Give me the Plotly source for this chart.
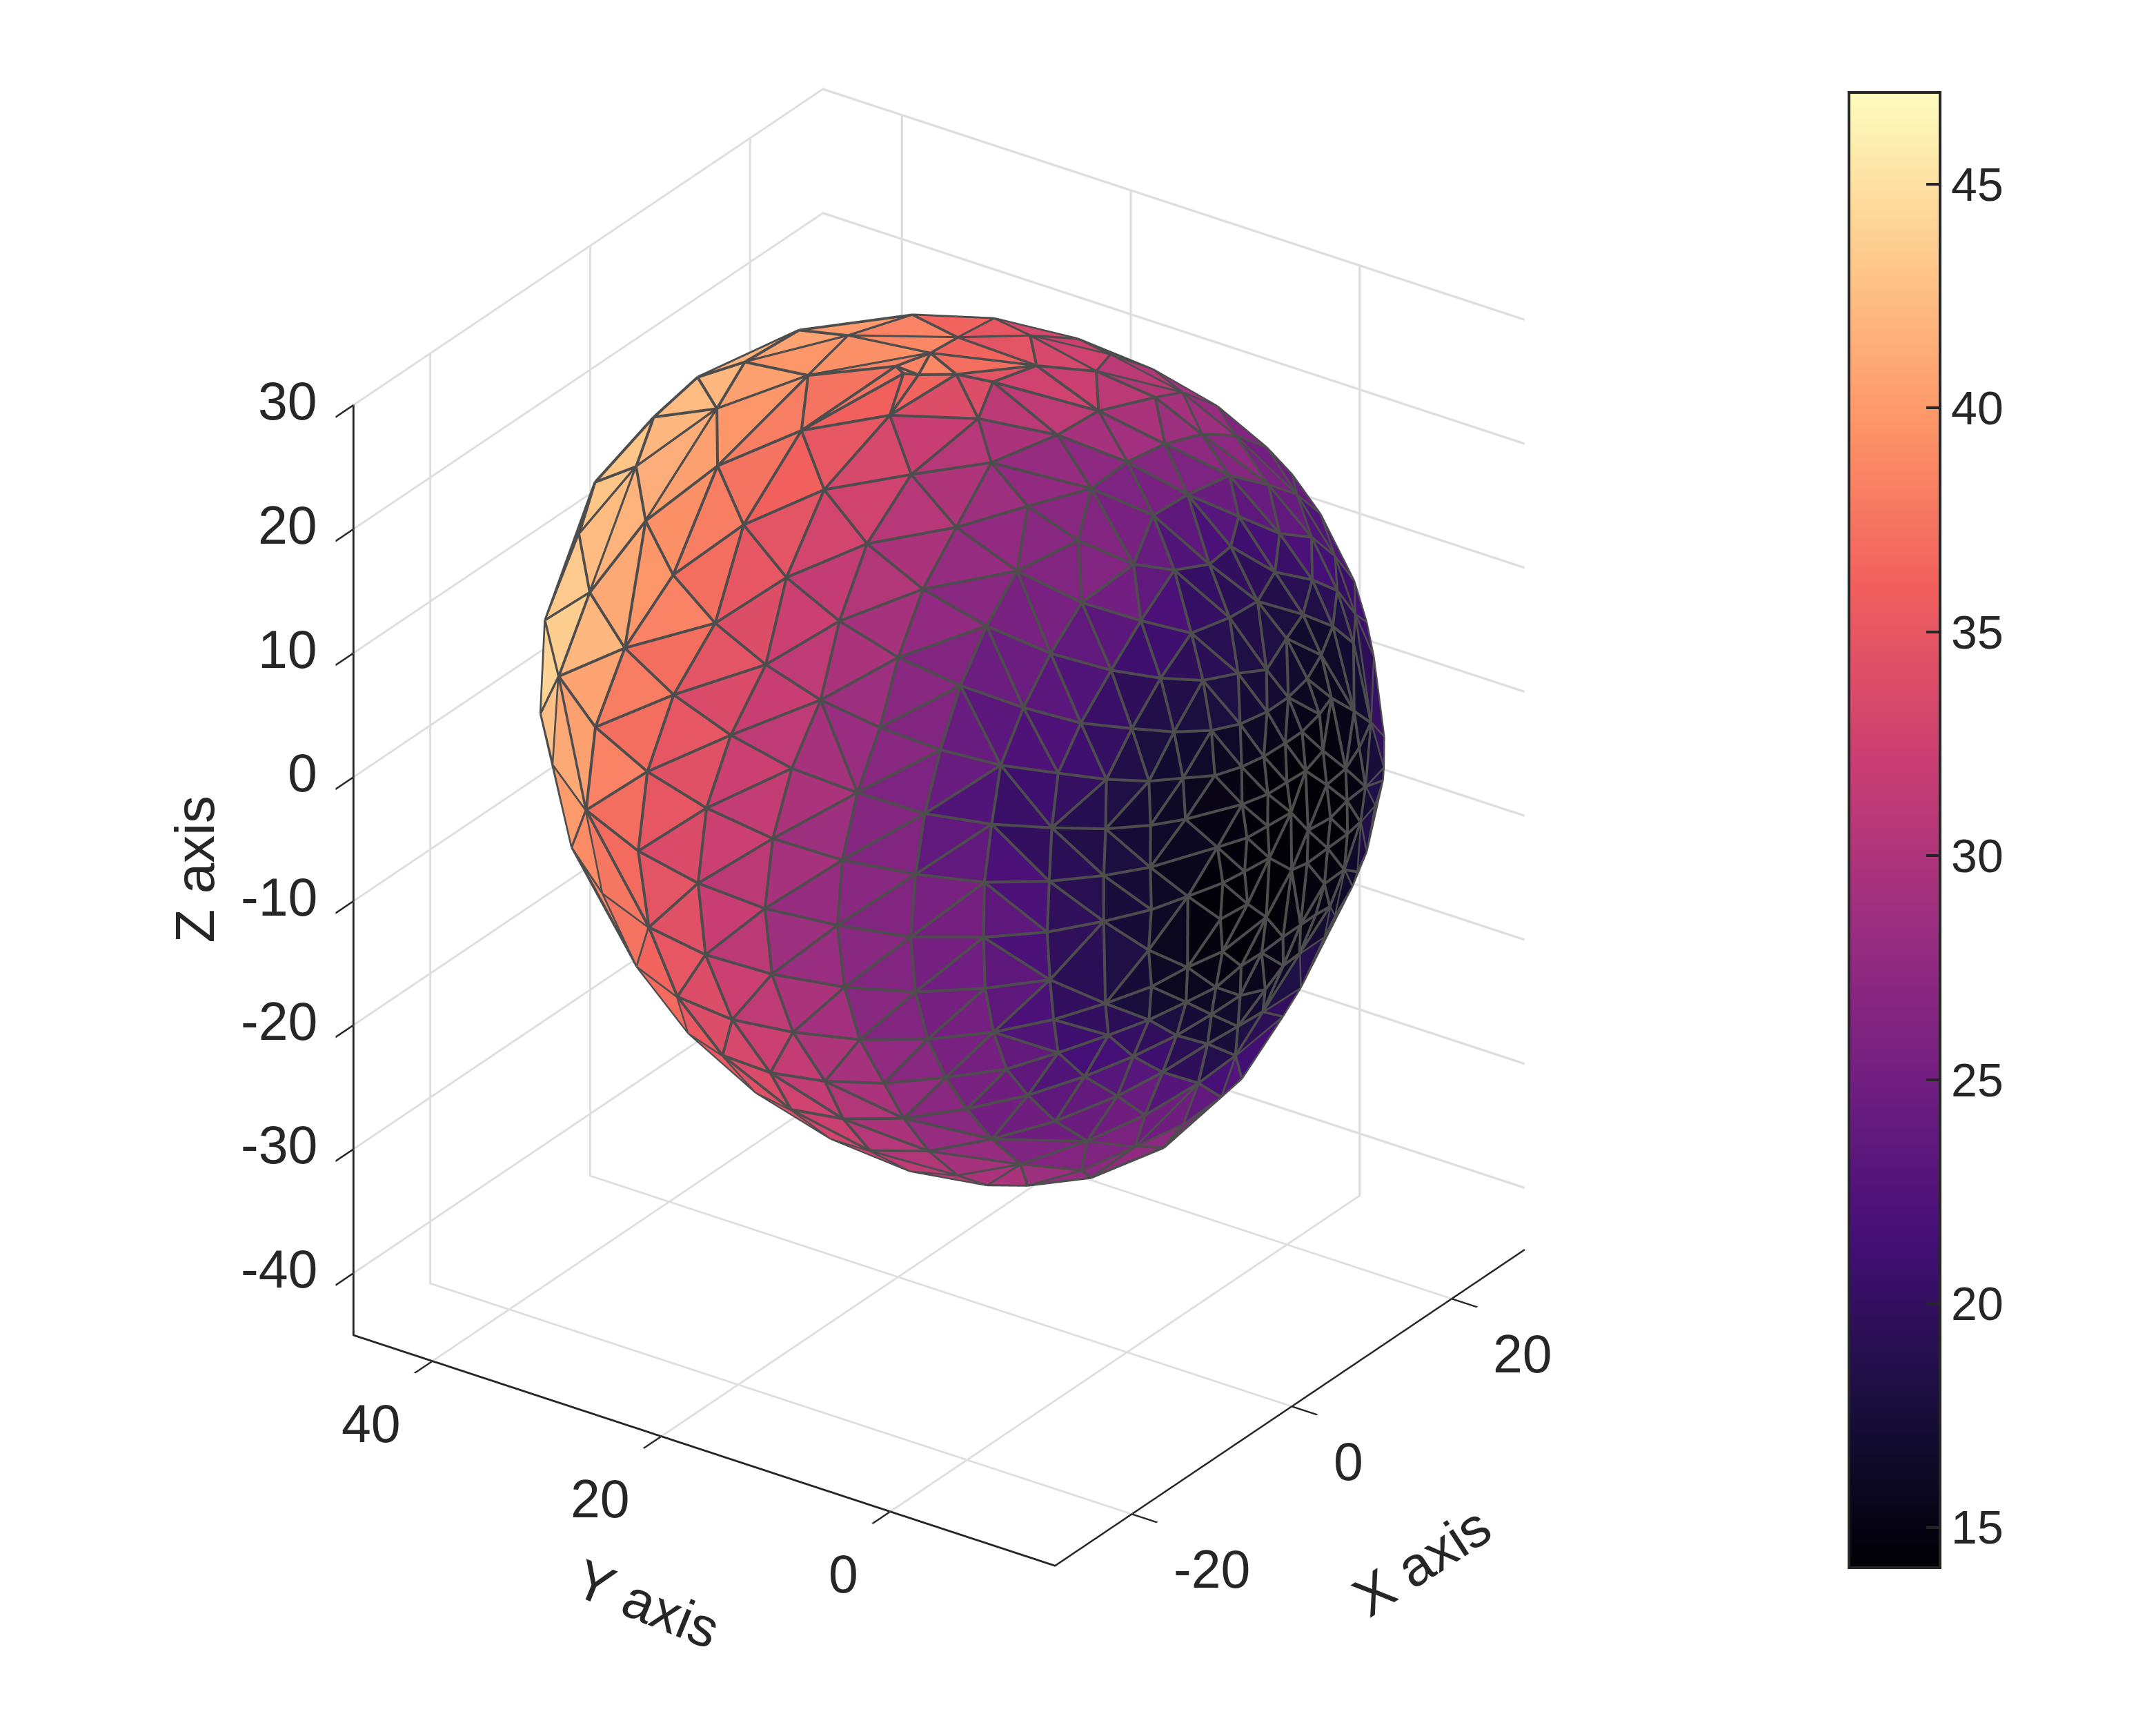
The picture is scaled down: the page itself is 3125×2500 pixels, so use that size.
import plotly.graph_objects as go

# surface nodes
node_x = [13.1,16.3,8.1,2.7,-0.2,-4.4,-6.4,-10.2,-12.9,-13.8,-15.3,19.2,20.1,21.4,23.0,23.9,24.2,24.3,23.8,23.2,22.5,20.8,19.9,19.5,18.5,16.9,16.0,15.4,13.9,12.9,10.5,9.0,5.6,4.3,2.0,0.6,-15.3,-15.9,-15.6,-14.5,-12.7,-10.4,-7.6,-6.0,-3.2,8.5,9.2,14.1,3.6,0.5,2.3,3.0,
          8.3,-0.9,-6.5,-3.6,-0.7,3.7,1.9,-3.7,-9.4,-11.1,-7.8,-3.8,-12.1,-14.3,-13.6,-9.6,-5.1,-14.5,-17.1,-17.1,-14.2,-9.3,-20.0,-20.0,-18.2,-13.4,-11.4,-16.8,-21.4,-18.0,-16.8,-22.1,-22.9,-21.7,-21.0,-14.8,-24.2,-19.6,-17.5,-14.9,-24.9,-24.3,-23.4,-23.4,-26.1,-21.7,-19.2,-16.4,-26.1,5.2,1.4,1.7,
          11.9,6.9,13.7,18.5,13.8,18.7,8.9,4.2,-0.3,12.1,16.4,20.8,6.3,2.0,9.4,12.8,17.2,6.4,-4.4,20.1,3.3,-2.6,0.2,9.2,13.3,16.4,-7.5,5.6,-4.7,-1.4,2.1,9.7,13.0,18.2,6.5,15.3,9.7,-2.8,0.3,3.0,6.8,9.1,11.8,14.3,4.0,1.5,-1.3,-3.9,4.3,6.9,6.2,11.3,
          2.2,-0.2,-2.4,-4.9,-7.3,8.6,11.5,3.6,1.4,-0.7,-3.2,5.8,8.2,1.2,2.9,5.7,-1.3,8.1,10.3,-8.0,-6.0,-1.5,2.5,5.2,7.7,0.7,-3.9,-3.3,-8.7,-3.8,-5.9,-6.2,-11.4,-1.9,-11.6,-5.8,0.2,2.1,4.0,4.8,5.9,-3.9,-1.9,0.8,2.7,-11.1,-8.6,-0.6,-3.3,-5.9,-8.2,-5.6,
          -10.7,-4.8,-2.3,0.1,-8.1,-10.8,-7.7,-3.1,-0.6,-10.2,-6.2,-2.0,-8.7,-5.8,-12.2,-9.4,-6.7,-12.3,-9.7,-13.4,-10.5,-20.4,-17.3,-14.2,-11.1,-20.8,-17.7,-14.5,-17.5,-14.0,-20.6,-19.7,-16.9,-13.2,-15.9,-18.2,-13.6,-25.9,-25.0,-27.0,-23.0,-26.0,-26.8,-25.6,-23.6,-26.8,-26.5,-25.3,-23.3,-25.3,-25.6,-25.3,
          -24.1,-22.2,-23.8,-23.7,-23.3,-22.2,-20.5,-16.1,-21.4,-20.9,-19.9,-18.3,-13.1,-15.3,-17.4,-16.6,-10.6,-8.7,-11.3,-4.8]
node_y = [27.9,23.0,34.3,39.4,41.2,43.4,43.4,43.7,42.2,40.5,37.8,17.7,15.5,12.7,8.2,4.5,2.5,0.1,-3.2,-4.7,-5.8,-7.9,-8.5,-8.7,-8.7,-9.1,-8.9,-8.9,-8.4,-8.2,-7.8,-7.3,-6.1,-5.2,-3.5,-2.8,35.1,31.7,27.4,22.3,17.0,11.7,6.9,4.5,0.9,30.3,21.2,18.3,35.9,28.2,21.8,17.0,
          13.7,35.2,23.9,18.2,12.5,14.3,7.4,40.3,29.2,18.7,13.4,9.2,33.6,23.5,13.2,8.2,5.1,36.8,27.7,17.8,7.9,3.1,29.9,22.0,12.4,2.9,-1.3,37.9,16.6,7.4,2.8,31.0,23.6,11.6,6.9,-1.3,17.7,2.6,-1.2,-4.4,24.5,12.3,7.2,30.9,18.5,2.5,-1.6,-4.9,12.7,20.8,20.5,19.4,
          11.0,7.3,7.1,8.1,3.1,3.6,2.9,2.9,2.9,-0.5,-0.9,-0.3,-0.9,-0.9,-3.2,-4.4,-4.1,-4.6,1.2,-4.1,-4.9,-2.4,-4.0,-6.5,-6.9,-6.9,-1.3,-7.5,-4.5,-6.6,-7.5,-8.6,-8.9,-7.2,-9.4,-9.1,-10.2,-8.6,-9.5,-10.1,-11.0,-11.5,-11.6,-11.3,-11.3,-11.2,-10.8,-10.1,-12.3,-12.0,-12.8,-12.4,
          -12.3,-12.1,-11.7,-11.1,-10.0,-13.1,-12.8,-13.1,-13.0,-12.8,-12.3,-13.4,-13.5,-13.5,-13.8,-13.8,-13.2,-13.6,-13.2,-10.7,-12.1,-13.5,-14.0,-13.9,-13.6,-13.9,-13.0,-12.8,-11.4,-13.2,-12.5,-12.5,-10.1,-13.5,-10.0,-12.4,-13.5,-13.7,-13.7,-13.9,-13.6,-12.7,-13.1,-13.1,-13.2,-9.9,-11.3,-12.5,-12.2,-11.9,-10.9,-11.3,
          -9.4,-10.4,-11.3,-11.8,-10.0,-8.1,-8.5,-8.4,-9.9,-6.3,-5.9,-2.1,-4.7,-7.0,-4.5,-7.0,-8.8,-6.8,-8.7,-7.5,-9.4,-1.8,-5.3,-7.9,-9.8,-2.0,-5.4,-8.1,-5.5,-7.9,-2.0,-2.1,-5.4,-7.6,-5.1,-2.2,-5.8,24.6,7.4,18.6,2.4,23.6,12.9,7.4,2.4,18.1,12.5,7.0,2.2,21.6,16.6,11.5,
          6.5,1.9,18.7,14.6,10.1,5.7,1.5,-2.6,14.4,10.2,5.6,1.2,-2.9,1.1,10.3,5.7,1.9,-2.6,6.9,0.6]
node_z = [24.5,24.3,23.5,20.5,18.0,13.9,10.6,5.2,-0.7,-3.9,-9.1,23.0,22.0,21.1,18.8,16.2,14.5,12.0,7.8,5.2,3.1,-2.0,-3.9,-4.7,-6.3,-9.2,-10.5,-11.4,-13.3,-14.6,-17.8,-19.6,-23.5,-24.7,-26.4,-27.9,-12.0,-16.6,-20.8,-24.5,-27.4,-29.4,-30.3,-30.3,-29.8,24.1,26.4,25.3,22.4,25.0,26.9,27.4,
          26.8,20.8,24.9,26.6,26.8,27.3,25.9,15.8,21.7,23.7,25.1,25.6,17.1,20.8,22.1,23.2,23.9,11.4,16.7,19.5,20.3,21.1,11.4,15.8,18.1,18.5,16.7,5.3,14.7,16.6,15.2,5.6,10.8,13.5,12.4,13.8,9.9,11.3,10.3,9.5,5.2,8.9,8.1,-0.5,4.6,7.1,6.4,5.9,3.9,27.0,27.1,27.2,
          25.6,25.7,23.9,21.9,22.1,19.7,23.5,24.1,23.9,20.6,18.1,15.2,21.7,21.9,19.3,16.8,14.5,18.6,22.0,11.7,18.6,20.4,19.2,15.9,13.6,11.4,19.1,15.4,17.4,15.6,15.6,12.9,10.6,8.8,12.6,8.3,10.1,13.0,12.5,11.8,9.7,7.3,5.1,3.0,9.5,9.4,9.5,9.9,6.9,7.1,4.7,2.6,
          6.9,6.8,6.8,7.0,7.5,2.3,-0.5,4.3,4.3,4.2,4.3,2.3,-0.0,2.1,0.0,-0.2,2.0,-2.6,-2.7,4.7,2.0,-0.4,-2.4,-2.4,-5.3,-2.2,-0.6,1.8,-1.0,-3.2,-0.8,-3.6,-1.3,-5.0,-4.5,-6.4,-7.5,-7.3,-7.3,-5.1,-7.5,-8.3,-8.0,-10.2,-10.0,-7.7,-6.8,-11.7,-11.1,-9.4,-9.9,-11.9,
          -10.7,-14.9,-14.3,-14.0,-12.9,-14.0,-16.5,-19.4,-17.8,-18.0,-21.4,-26.9,15.2,14.0,12.4,11.5,10.6,8.6,7.9,5.3,4.9,2.3,2.1,2.0,1.9,-1.9,-1.8,-1.5,-5.7,-8.4,-6.1,-10.0,-9.2,-11.4,-12.4,-13.6,-15.1,-0.8,3.3,-1.1,2.8,-6.6,-1.5,-1.7,-2.0,-6.8,-6.8,-6.7,-6.5,-11.9,-12.1,-11.7,
          -11.3,-10.7,-16.4,-16.6,-16.1,-15.4,-14.4,-16.5,-20.5,-20.2,-19.2,-17.8,-19.8,-21.5,-24.3,-23.3,-25.8,-23.4,-27.9,-28.4]
node_value = [39,34,41,43,42,45,42,45,44,41,40,31,31,30,27,25,25,24,23,22,22,22,20,20,20,20,19,17,18,20,21,21,24,25,26,28,38,38,37,35,33,32,30,30,27,40,36,35,41,38,37,38,
              33,42,37,33,31,33,29,42,39,35,32,29,40,36,31,29,28,43,39,33,29,26,40,36,31,26,25,43,33,28,25,39,35,30,28,23,33,26,22,22,37,31,27,39,33,25,20.5,19.3,31,40,38,38,
              32,32,29,30,29,27,28,27,26,25,26,23.5,25,25,23.5,22,23.5,20.5,27,20.5,20.5,26,22,19.3,20.5,20.5,26,19.3,23.5,20.5,18.3,17.3,17.3,19.3,17.3,17.3,15.6,19.3,18.3,18.3,16.5,15.6,16.5,17.3,16.5,16.5,17.3,17.3,15,15,14.4,15.6,
              15,15,15,15.6,16.5,14.4,15.6,14.4,14.4,14.4,15,14.4,14.7,14.2,14.2,14.2,14.4,14.4,15.6,15.6,15,14.4,14.4,14.4,15,14.4,14.4,14.7,14.7,14.2,14.2,14.4,16.5,14.4,17.3,14.4,15,15,15,15,15.6,15,15,15.6,15.6,15.6,15.6,15.6,16.5,15.6,16.5,16.5,
              18.3,16.5,17.3,18.3,19.3,22,22,20.5,19.3,25,26,28,20.5,19.3,22,19.3,17.3,19.3,17.3,18.3,16.5,25,20.5,18.3,17.3,25,20.5,18.3,20.5,19.3,25,25,20.5,20.5,22,25,22,35,28,33,26,36,29,27,26,34,30,28,25,35,33,31,
              28,26,34,33,31,29,26,23.5,34,31,29,26,25,26,32,29,29,23.5,30,27]

z_ticks = [-40, -30, -20, -10, 0, 10, 20, 30]
y_ticks = [0, 20, 40]
x_ticks = [-20, 0, 20]
bar_ticks = [15, 20, 25, 30, 35, 40, 45]
x_range = [-29.6, 29.1]
y_range = [-14.4, 46.9]
z_range = [-45, 30]

# view directions, from the tilt of the three axes
right = (0.567, -0.824, 0.0)
up = (0.38, 0.27, 0.88)
view = (-0.725, -0.499, 0.466)
middle = (3.3, 16.5, -3.0)
radius = 30.5


def dot(a, b):
    return a[0] * b[0] + a[1] * b[1] + a[2] * b[2]


# stereographic plane, so a flat Delaunay gives the triangles of the surface
flat = []
for px, py, pz in zip(node_x, node_y, node_z):
    d = (px - middle[0], py - middle[1], pz - middle[2])
    s = radius + dot(d, view)
    flat.append((dot(d, right) / s, dot(d, up) / s))


def delaunay(p):
    n = len(p)
    big = p + [(-50.0, -50.0), (50.0, -50.0), (0.0, 80.0)]
    tris = [(n, n + 1, n + 2)]
    for idx in range(n):
        px, py = big[idx]
        bad = []
        for t in tris:
            ax, ay = big[t[0]]; bx, by = big[t[1]]; cx, cy = big[t[2]]
            d = 2 * (ax * (by - cy) + bx * (cy - ay) + cx * (ay - by))
            ux = ((ax**2 + ay**2) * (by - cy) + (bx**2 + by**2) * (cy - ay) + (cx**2 + cy**2) * (ay - by)) / d
            uy = ((ax**2 + ay**2) * (cx - bx) + (bx**2 + by**2) * (ax - cx) + (cx**2 + cy**2) * (bx - ax)) / d
            if (px - ux) ** 2 + (py - uy) ** 2 < (ax - ux) ** 2 + (ay - uy) ** 2:
                bad.append(t)
        count = {}
        for t in bad:
            for e in ((t[0], t[1]), (t[1], t[2]), (t[2], t[0])):
                key = tuple(sorted(e))
                count[key] = count.get(key, 0) + 1
        tris = [t for t in tris if t not in bad]
        for (a, b), c in count.items():
            if c == 1:
                tris.append((a, b, idx))
    return [t for t in tris if max(t) < n]


faces = delaunay(flat)
face_value = [(node_value[a] + node_value[b] + node_value[c]) / 3 for a, b, c in faces]

# mesh edges, pulled a little toward the camera so they sit on top of the faces
edge_x, edge_y, edge_z = [], [], []
seen = set()
for a, b, c in faces:
    for e in ((a, b), (b, c), (c, a)):
        key = tuple(sorted(e))
        if key in seen:
            continue
        seen.add(key)
        for q in key:
            edge_x.append(node_x[q] + 0.2 * view[0])
            edge_y.append(node_y[q] + 0.2 * view[1])
            edge_z.append(node_z[q] + 0.2 * view[2])
        edge_x.append(None)
        edge_y.append(None)
        edge_z.append(None)

fig = go.Figure()
fig.add_trace(go.Mesh3d(
    x=node_x, y=node_y, z=node_z,
    i=[f[0] for f in faces], j=[f[1] for f in faces], k=[f[2] for f in faces],
    intensity=face_value, intensitymode="cell",
    colorscale="Magma", cmin=14.1, cmax=47.05, flatshading=True,
    lighting=dict(ambient=1, diffuse=0, specular=0, roughness=1, fresnel=0),
    colorbar=dict(
        x=2672 / 3125, xanchor="left", xpad=0, y=0.522, yanchor="middle", ypad=0,
        len=2138 / 2500, thickness=132, outlinecolor="#262626", outlinewidth=4,
        ticks="inside", ticklen=22, tickwidth=4, tickcolor="#262626",
        tickvals=bar_ticks,
        tickfont=dict(family="Liberation Sans", size=68, color="#262626"),
    ),
))
fig.add_trace(go.Scatter3d(x=edge_x, y=edge_y, z=edge_z, mode="lines",
                           line=dict(color="#4d4d4d", width=8), showlegend=False, hoverinfo="skip"))

axis_style = dict(
    showbackground=False, showgrid=True, gridcolor="#dedede", gridwidth=7,
    showline=True, linecolor="#262626", linewidth=6, zeroline=False, showspikes=False,
    ticks="outside", ticklen=45, tickwidth=6, tickcolor="#262626",
    showticklabels=False, title=dict(text=""),
)
tick_font = dict(family="Liberation Sans", size=77, color="#262626")
title_font = dict(family="Liberation Sans", size=80, color="#262626")
labels = []
for val in z_ticks:
    labels.append(dict(x=x_range[0], y=y_range[1], z=val, text=str(val), showarrow=False, xanchor="right", xshift=-50, yshift=6, font=tick_font))
for val in y_ticks:
    labels.append(dict(x=x_range[0], y=val, z=z_range[0], text=str(val), showarrow=False, xanchor="right", xshift=-44, yshift=-90, font=tick_font))
for val in x_ticks:
    labels.append(dict(x=val, y=y_range[0], z=z_range[0], text=str(val), showarrow=False, xanchor="left", xshift=58, yshift=-80, font=tick_font))
labels.append(dict(x=8.8, y=y_range[0], z=z_range[0], text="X axis", textangle=-33, showarrow=False, xshift=86, yshift=-294, font=title_font))
labels.append(dict(x=x_range[0], y=18, z=z_range[0], text="Y axis", textangle=22, showarrow=False, xshift=-54, yshift=-232, font=title_font))
labels.append(dict(x=x_range[0], y=y_range[1], z=-8, text="Z axis", textangle=-90, showarrow=False, xshift=-230, yshift=10, font=title_font))

fig.update_layout(
    width=3125, height=2500, paper_bgcolor="white", margin=dict(l=0, r=0, t=0, b=0),
    scene=dict(
        domain=dict(x=[0, 0.866], y=[0.042, 1.0]),
        xaxis=dict(range=x_range, tickvals=x_ticks, **axis_style),
        yaxis=dict(range=y_range, tickvals=y_ticks, **axis_style),
        zaxis=dict(range=z_range, tickvals=z_ticks, **axis_style),
        aspectmode="manual", aspectratio=dict(x=0.992, y=1.036, z=1.2755),
        annotations=labels,
        camera=dict(
            projection=dict(type="orthographic"), up=dict(x=0, y=0, z=1), center=dict(x=0, y=0, z=-0.006),
            eye=dict(x=-0.7244 * 2, y=-0.5062 * 2, z=0.468 * 2),
        ),
    ),
)
fig.write_html("out.html")
